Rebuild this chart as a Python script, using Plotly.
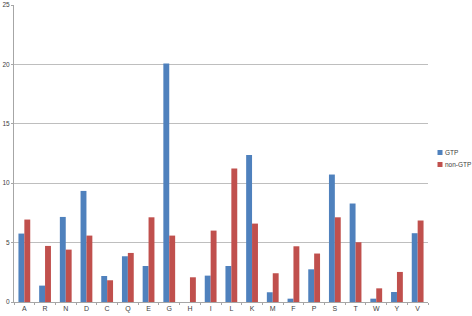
import plotly.graph_objects as go

categories = ["A","R","N","D","C","Q","E","G","H","I","L","K","M","F","P","S","T","W","Y","V"]
gtp = [5.76,1.38,7.16,9.35,2.19,3.85,3.03,20.08,0,2.22,3.03,12.38,0.82,0.28,2.75,10.73,8.29,0.28,0.84,5.79]
non_gtp = [6.94,4.72,4.41,5.59,1.83,4.13,7.13,5.59,2.08,6.01,11.24,6.6,2.42,4.69,4.08,7.13,5.03,1.15,2.53,6.86]
y_ticks = [0,5,10,15,20,25]
series_names = ["GTP", "non-GTP"]
series_colors = ["#4F81BD", "#C0504D"]

W, H = 472, 316
ML, MR, MT, MB = 14, 44, 5, 14
PW, PH = W - ML - MR, H - MT - MB

fig = go.Figure()
for name, vals, col in zip(series_names, [gtp, non_gtp], series_colors):
    fig.add_bar(x=categories, y=vals, name=name, showlegend=False,
                marker=dict(color=col, line=dict(width=0)))

# legend drawn beside the plot (small square + label)
def px2x(px):
    return (px - ML) / PW

def py2y(py):
    return (H - MB - py) / PH

leg_y = [152.5, 164.5]
for name, col, ly in zip(series_names, series_colors, leg_y):
    fig.add_shape(type="rect", xref="paper", yref="paper",
                  x0=px2x(437.5), x1=px2x(442.5), y0=py2y(ly + 2.5), y1=py2y(ly - 2.5),
                  fillcolor=col, line=dict(width=0))
    fig.add_annotation(text=name, xref="paper", yref="paper", x=px2x(444), y=py2y(ly),
                       xanchor="left", yanchor="middle", showarrow=False, borderpad=0,
                       font=dict(size=6.5, color="#404040"))

fig.update_layout(
    width=W, height=H,
    margin=dict(l=ML, r=MR, t=MT, b=MB, autoexpand=False),
    paper_bgcolor="white", plot_bgcolor="white",
    barmode="group", bargap=0.43, bargroupgap=0,
    font=dict(family="Liberation Sans", size=7, color="#404040"),
    showlegend=False,
    xaxis=dict(showline=True, linecolor="#A6A6A6", linewidth=1, automargin=False,
               ticks="outside", tickson="boundaries", ticklen=2, tickcolor="#A6A6A6",
               showgrid=False, tickfont=dict(size=7, color="#404040")),
    yaxis=dict(range=[0, 25], tickvals=y_ticks, showline=True, linecolor="#A6A6A6", linewidth=1,
               automargin=False, ticks="outside", ticklen=2, tickcolor="#A6A6A6",
               showgrid=True, gridcolor="#BEBEBE", gridwidth=1, zeroline=False,
               tickfont=dict(size=6.5, color="#404040")),
)

fig.write_html("out.html", config={"displayModeBar": False},
               post_script="document.body.style.margin='0';")
